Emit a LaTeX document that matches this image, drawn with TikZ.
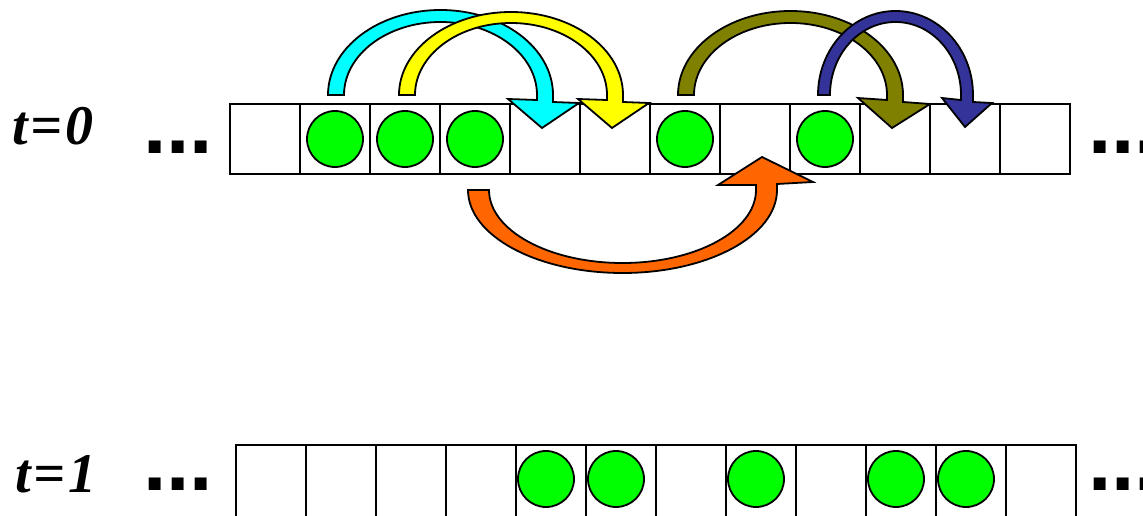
\documentclass[tikz,border=0pt]{standalone}
\usepackage{fontspec}
\setmainfont{Liberation Serif}
\newfontfamily\dotfont{Liberation Sans}
\definecolor{ballgreen}{RGB}{0,255,0}
\definecolor{arrcyan}{RGB}{0,255,255}
\definecolor{arryellow}{RGB}{255,255,0}
\definecolor{arrolive}{RGB}{128,128,0}
\definecolor{arrblue}{RGB}{51,51,153}
\definecolor{arrorange}{RGB}{255,102,0}
\begin{document}
\begin{tikzpicture}[x=1pt,y=1pt,
  cell/.style={draw=black, line width=2pt, minimum width=70pt, minimum height=70pt, inner sep=0pt, outer sep=0pt, anchor=south west},
  ball/.style={circle, draw=black, line width=1.8pt, fill=ballgreen, minimum size=56pt, inner sep=0pt},
  barrow/.style={draw=black, line width=1.8pt, line join=miter},
  lbl/.style={font=\fontsize{56}{60}\selectfont\bfseries\itshape, inner sep=0pt, anchor=base west},
  dots/.style={font=\dotfont\bfseries\fontsize{84}{90}\selectfont, inner sep=0pt, anchor=base west}]
\useasboundingbox (0,0) rectangle (1143,515);

% labels
\node[lbl] (t0) at (12,370) {t\kern3pt=\kern3pt0};
\node[lbl] (t1) at (15,23) {t\kern3pt=\kern3pt1};
\node[dots] (dl0) at (143,361) {...};
\node[dots] (dl1) at (143,25) {...};
\node[dots] (dr0) at (1088,361) {...};
\node[dots] (dr1) at (1088,25) {...};

% cells
\foreach \i in {0,...,11} {
  \node[cell] (c\i) at (230+70*\i,341) {};
  \node[cell, minimum height=74pt] (d\i) at (236+70*\i,-4) {};
}

% balls
\foreach \i in {1,2,3,6,8} \node[ball] (a\i) at (c\i.center) {};
\foreach \i in {4,5,7,9,10} \node[ball] (b\i) at (266+70*\i,36) {};

% curved arrows
\draw[barrow, fill=arrcyan] (328,420) arc[start angle=180, end angle=0, x radius=112.5, y radius=85]
  -- (553,413) -- (579,412) -- (542,387) -- (508,416) -- (537,415) -- (537,420)
  arc[start angle=0, end angle=180, x radius=96.5, y radius=73] -- cycle;
\draw[barrow, fill=arryellow] (399,420) arc[start angle=180, end angle=0, x radius=112, y radius=83]
  -- (623,413) -- (649,412) -- (612,387) -- (578,416) -- (607,415) -- (607,420)
  arc[start angle=0, end angle=180, x radius=96, y radius=72] -- cycle;
\draw[barrow, fill=arrolive] (678,420) arc[start angle=180, end angle=0, x radius=112.5, y radius=84]
  -- (903,413) -- (930,411) -- (892,387) -- (858,417) -- (887,415) -- (887,420)
  arc[start angle=0, end angle=180, x radius=96.5, y radius=72] -- cycle;
\draw[barrow, fill=arrblue] (818,420) arc[start angle=180, end angle=0, x radius=77.5, y radius=84]
  -- (973,413) -- (992,412) -- (965,388) -- (942,417) -- (961,415) -- (961,420)
  arc[start angle=0, end angle=180, x radius=65.5, y radius=73] -- cycle;
\draw[barrow, fill=arrorange] (468,325) arc[start angle=180, end angle=360, x radius=154.5, y radius=83]
  -- (777,331) -- (813,333) -- (762,358) -- (718,330) -- (756,330) -- (756,325)
  arc[start angle=360, end angle=180, x radius=133.5, y radius=73] -- cycle;
\end{tikzpicture}
\end{document}
